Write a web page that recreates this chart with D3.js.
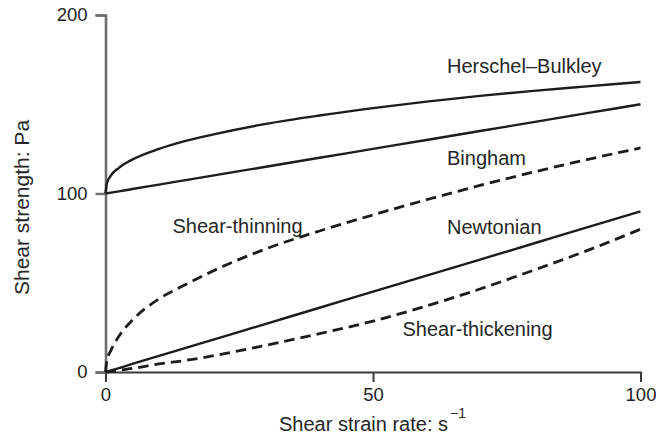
<!DOCTYPE html>
<html>
<head>
<meta charset="utf-8">
<script src="https://cdn.jsdelivr.net/npm/d3@7"></script>
<style>
  html, body { margin: 0; padding: 0; background: #fff; }
  svg { display: block; font-family: "Liberation Sans", Arial, Helvetica, sans-serif; }
</style>
</head>
<body>
<svg id="chart" width="656" height="440"></svg>
<script>
// Shear strain rate samples (s^-1) shared by every flow curve
const shearRate = [0, 0.25, 1, 2.5, 5, 10, 15, 20, 30, 40, 50, 60, 70, 80, 90, 100];

// Shear strength (Pa) of each fluid model at those rates
const herschelBulkley = [100, 105.7, 110, 114.4, 119, 125, 129.5, 133, 139, 143.7, 147.8, 151.5, 154.7, 157.5, 160, 162.5];
const bingham         = [100, 100.1, 100.5, 101.2, 102.5, 105, 107.5, 110, 115, 120, 125, 130, 135, 140, 145, 150];
const shearThinning   = [0, 6.3, 12, 20, 29, 41, 49, 56.5, 69, 79, 88, 96.5, 104.5, 112, 119, 125.5];
const newtonian       = [0, 0.2, 0.9, 2.2, 4.5, 9, 13.5, 18, 27, 36, 45, 54, 63, 72, 81, 90];
const shearThickening = [0, 0, 0.3, 1, 2, 4.5, 6.5, 9, 15, 21.5, 28.5, 37, 46.5, 57, 68, 80];

const xTicks = [0, 50, 100];
const yTicks = [0, 100, 200];

const curveNames = ["Herschel–Bulkley", "Bingham", "Shear-thinning", "Newtonian", "Shear-thickening"];

const svg = d3.select("#chart");

const x = d3.scaleLinear().domain([0, 100]).range([105.5, 640.5]);
const y = d3.scaleLinear().domain([0, 200]).range([372, 15]);

// Axes
const xAxis = svg.append("g")
  .attr("transform", `translate(0,${y(0)})`)
  .call(d3.axisBottom(x).tickValues(xTicks).tickSize(10).tickSizeOuter(10).tickPadding(6));
xAxis.select(".domain").attr("stroke", "#3a3a3a").attr("stroke-width", 2);
xAxis.selectAll(".tick line").attr("stroke", "#3a3a3a").attr("stroke-width", 2);
xAxis.selectAll(".tick text")
  .attr("font-size", 18.5).attr("fill", "#222")
  .attr("font-family", "Liberation Sans, Arial, sans-serif");

const yAxis = svg.append("g")
  .attr("transform", `translate(${x(0)},0)`)
  .call(d3.axisLeft(y).tickValues(yTicks).tickSize(10).tickSizeOuter(10).tickPadding(8));
yAxis.select(".domain").attr("stroke", "#6e6e6e").attr("stroke-width", 2.6);
yAxis.selectAll(".tick line").attr("stroke", "#6e6e6e").attr("stroke-width", 2.4);
yAxis.selectAll(".tick text")
  .attr("font-size", 18.5).attr("fill", "#222")
  .attr("font-family", "Liberation Sans, Arial, sans-serif");

// Flow curves
const series = [
  { name: curveNames[0], values: herschelBulkley, dashed: false },
  { name: curveNames[1], values: bingham,         dashed: false },
  { name: curveNames[2], values: shearThinning,   dashed: true  },
  { name: curveNames[3], values: newtonian,       dashed: false },
  { name: curveNames[4], values: shearThickening, dashed: true  }
];

const line = d3.line()
  .x(d => x(d[0]))
  .y(d => y(d[1]))
  .curve(d3.curveMonotoneX);

svg.append("g").selectAll("path")
  .data(series)
  .join("path")
  .attr("d", s => line(shearRate.map((r, i) => [r, s.values[i]])))
  .attr("fill", "none")
  .attr("stroke", "#1c1c1c")
  .attr("stroke-width", s => s.dashed ? 2.8 : 2.4)
  .attr("stroke-dasharray", s => s.dashed ? "10.5,6" : null);

// Curve labels
const labelPos = [
  { text: curveNames[0], x: 447, y: 73 },
  { text: curveNames[1], x: 447, y: 164.5 },
  { text: curveNames[2], x: 172.5, y: 232.5 },
  { text: curveNames[3], x: 447, y: 233.5 },
  { text: curveNames[4], x: 402.5, y: 335.5 }
];
svg.append("g").selectAll("text")
  .data(labelPos)
  .join("text")
  .attr("x", d => d.x)
  .attr("y", d => d.y)
  .attr("font-size", 20)
  .attr("fill", "#262626")
  .text(d => d.text);

// Axis titles
const xTitle = svg.append("text")
  .attr("x", 372.5)
  .attr("y", 431)
  .attr("text-anchor", "middle")
  .attr("font-size", 20)
  .attr("fill", "#262626");
xTitle.append("tspan").text("Shear strain rate: s");
xTitle.append("tspan").attr("dx", 2).attr("dy", -13).attr("font-size", 14).text("−1");

svg.append("text")
  .attr("transform", "translate(28.5,207.5) rotate(-90)")
  .attr("text-anchor", "middle")
  .attr("font-size", 21)
  .attr("fill", "#262626")
  .text("Shear strength: Pa");
</script>
</body>
</html>
